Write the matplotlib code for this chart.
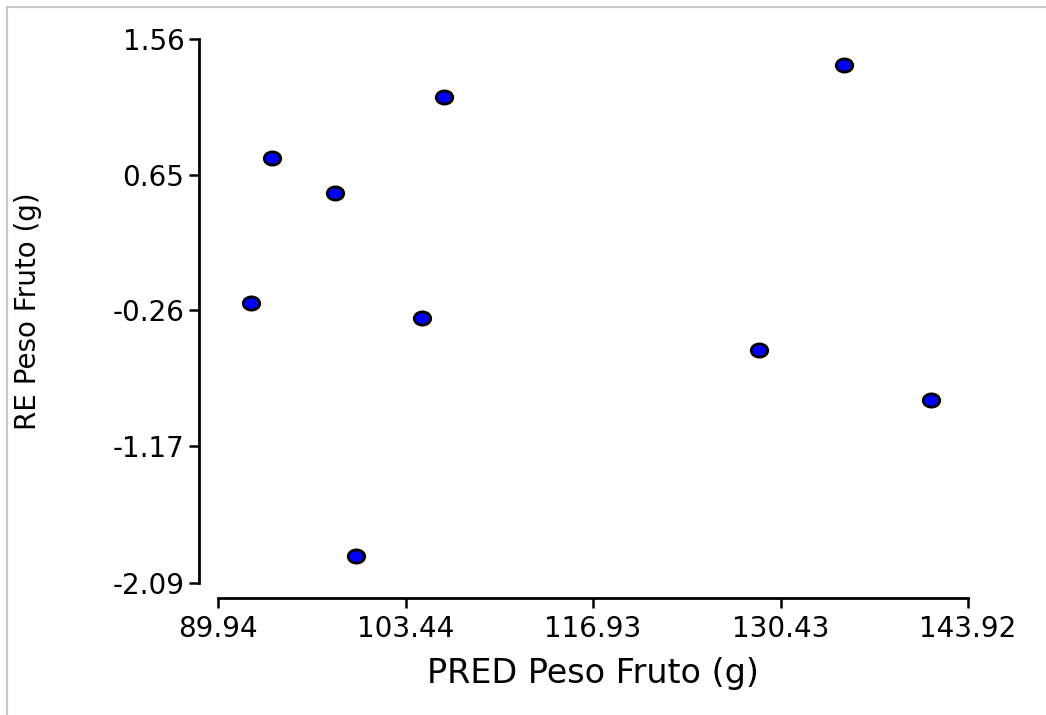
import matplotlib.pyplot as plt
from matplotlib.lines import Line2D
from matplotlib.markers import MarkerStyle
from matplotlib.transforms import Affine2D

# Predicted fruit weight vs. residual
pred = [92.31, 93.83, 98.36, 99.87, 104.62, 106.21, 128.88, 135.00, 141.26]
resid = [-0.21, 0.76, 0.53, -1.91, -0.31, 1.17, -0.53, 1.385, -0.86]

xticks = [89.94, 103.44, 116.93, 130.43, 143.92]
yticks = [-2.09, -1.17, -0.26, 0.65, 1.56]

fig = plt.figure(figsize=(10.46, 7.15), dpi=100)
ax = fig.add_axes([218 / 1046, 1 - 583 / 715, 750 / 1046, 544 / 715])

# slightly wide ellipse marker
ell = MarkerStyle('o', transform=Affine2D().scale(1.25, 1.0))
ax.scatter(pred, resid, marker=ell, s=9.5 ** 2, facecolor='#0000ff',
           edgecolor='black', linewidth=2.0, zorder=3, clip_on=False)

ax.set_xlim(xticks[0], xticks[-1])
ax.set_ylim(yticks[0], yticks[-1])
ax.set_xticks(xticks)
ax.set_xticklabels(['%.2f' % v for v in xticks])
ax.set_yticks(yticks)
ax.set_yticklabels(['%.2f' % v for v in yticks])

for s in ['top', 'right']:
    ax.spines[s].set_visible(False)
ax.spines['left'].set_position(('outward', 19 * 0.72))
ax.spines['bottom'].set_position(('outward', 15 * 0.72))
ax.spines['left'].set_linewidth(2.0)
ax.spines['bottom'].set_linewidth(2.0)

ax.tick_params(axis='both', direction='out', length=7, width=1.8,
               labelsize=20, colors='black')
ax.tick_params(axis='y', pad=3.5)
ax.tick_params(axis='x', pad=5)

ax.set_xlabel('PRED Peso Fruto (g)', fontsize=24, labelpad=10)
ax.set_ylabel('RE Peso Fruto (g)', fontsize=20)
ax.yaxis.set_label_coords((42 - 218) / 750, 0.5)

# light gray frame lines at left and top
fig.add_artist(Line2D([7 / 1046, 7 / 1046], [0, 1 - 7 / 715],
                      color='#c8c8c8', linewidth=1.5))
fig.add_artist(Line2D([7 / 1046, 1], [1 - 7 / 715, 1 - 7 / 715],
                      color='#c8c8c8', linewidth=1.5))

fig.savefig('out.png', dpi=100)
